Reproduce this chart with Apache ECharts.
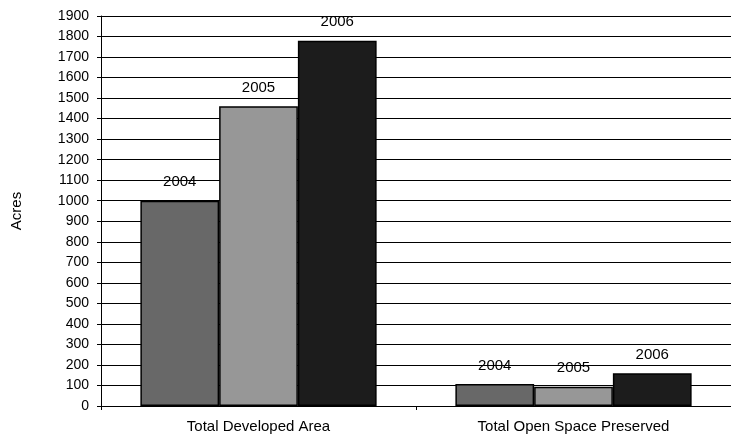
<!DOCTYPE html>
<html>
<head>
<meta charset="utf-8">
<script src="https://cdn.jsdelivr.net/npm/echarts@6/dist/echarts.min.js"></script>
<style>
  html, body { margin: 0; padding: 0; background: #ffffff; }
  #chart { width: 731px; height: 438px; }
</style>
</head>
<body>
<div id="chart"></div>
<script>
// data
const categories = ['Total Developed Area', 'Total Open Space Preserved']
const years = ['2004', '2005', '2006']
const values2004 = [1000, 107]
const values2005 = [1460, 94]
const values2006 = [1780, 159]
const barColors = ['#686868', '#979797', '#1c1c1c']

const chart = echarts.init(document.getElementById('chart'))

const seriesData = [values2004, values2005, values2006]
const series = years.map((y, i) => ({
  name: y,
  type: 'bar',
  data: seriesData[i],
  barGap: '0%',
  barCategoryGap: '25%',
  itemStyle: {
    color: barColors[i],
    borderColor: '#000',
    borderWidth: 1.5
  },
  label: {
    show: true,
    position: 'top',
    distance: 11,
    formatter: y,
    color: '#000',
    fontSize: 15,
    fontFamily: 'Liberation Sans'
  }
}))

chart.setOption({
  animation: false,
  textStyle: { fontFamily: 'Liberation Sans' },
  grid: { left: 101, right: -4, top: 16, bottom: 32 },
  xAxis: {
    type: 'category',
    data: categories,
    axisLine: { lineStyle: { color: '#000', width: 1 } },
    axisTick: { show: true, length: 4, lineStyle: { color: '#000' } },
    axisLabel: { color: '#000', fontSize: 15, margin: 13 }
  },
  yAxis: {
    type: 'value',
    min: 0,
    max: 1900,
    interval: 100,
    name: 'Acres',
    nameLocation: 'middle',
    nameGap: 77,
    nameRotate: 90,
    nameTextStyle: { color: '#000', fontSize: 15 },
    axisLine: { show: true, lineStyle: { color: '#000', width: 1 } },
    axisTick: { show: true, length: 4, lineStyle: { color: '#000' } },
    axisLabel: { color: '#000', fontSize: 14, margin: 12, formatter: v => String(v) },
    splitLine: { lineStyle: { color: '#000', width: 1 } }
  },
  series: series
})
</script>
</body>
</html>
